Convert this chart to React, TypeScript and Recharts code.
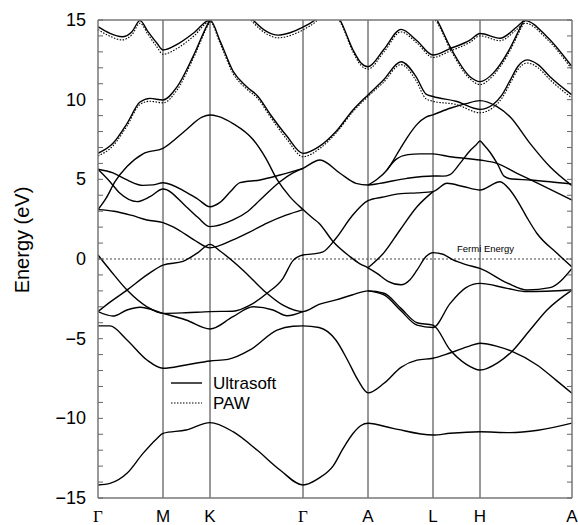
import { LineChart, Line, XAxis, YAxis, ReferenceLine } from 'recharts';

type Pt = [number, number];

// path coordinate of the high-symmetry points and their labels
const SYM_K = [0, 65, 112, 205, 270, 335, 382, 474];
const SYM_LABELS = ['Γ', 'M', 'K', 'Γ', 'A', 'L', 'H', 'A'];
const E_TICKS = [-15, -14, -13, -12, -11, -10, -9, -8, -7, -6, -5, -4, -3, -2, -1, 0, 1, 2, 3, 4, 5, 6, 7, 8, 9, 10, 11, 12, 13, 14, 15];

// Ultrasoft bands, [k, E (eV)]
const US_TOP_A: Pt[] = [[0, 14.58], [12, 14.16], [24, 13.95], [34, 14.27], [42, 14.96], [50, 14.27], [59, 13.54], [65, 13.12], [80, 13.5], [96, 14.2], [112, 15.0], [122, 13.7], [135, 11.8], [149, 10.8], [160, 10.2], [172, 9.1], [189, 7.7], [205, 6.63], [221, 7.05], [238, 8.0], [255, 9.35], [270, 10.3], [285, 11.2], [303, 12.38], [318, 11.45], [328, 10.35], [335, 10.2], [358, 9.9], [382, 9.39], [395, 9.7], [404, 10.3], [412, 11.2], [420, 12.1], [429, 12.5], [440, 12.2], [452, 11.44], [474, 10.3]];
const US_TOP_B: Pt[] = [[0, 6.63], [15, 7.26], [29, 8.5], [42, 9.85], [52, 10.08], [65, 9.98], [79, 10.8], [95, 12.7], [112, 15.0], [125, 15.9], [140, 16.1], [155, 15.0], [168, 14.3], [180, 14.05], [192, 14.2], [205, 14.55], [217, 15.0], [230, 15.8], [242, 15.0], [255, 13.12], [263, 12.3], [270, 12.07], [286, 13.16], [303, 14.41], [319, 13.7], [335, 12.8], [352, 13.2], [372, 13.74], [382, 14.15], [402, 13.85], [419, 14.58], [427, 14.96], [449, 13.95], [474, 12.07]];
const US_TOP_C: Pt[] = [[322, 16.6], [335, 15.4], [339, 15.0], [352, 13.33], [372, 11.44], [382, 11.13], [395, 11.65], [410, 13.0], [422, 14.5], [432, 15.8]];
const US_T3: Pt[] = [[0, 3.1], [8, 3.8], [17, 4.85], [29, 5.8], [45, 6.6], [65, 6.95], [88, 8.1], [104, 8.9], [112, 9.04], [120, 8.95], [135, 8.5], [155, 7.5], [168, 6.3], [179, 5.0], [192, 3.9], [205, 3.1], [214, 2.6], [221, 2.25], [235, 1.1], [252, 0.15], [262, -0.3], [270, -0.55], [279, -0.9], [290, -1.4], [303, -1.62], [312, -1.3], [319, -0.7], [328, 0.15], [335, 0.4], [345, 0.3], [355, -0.06], [368, -0.35], [382, -0.59], [409, -1.5], [429, -1.95], [452, -1.8], [474, -0.59]];
const US_T6: Pt[] = [[0, 3.1], [16, 3.0], [33, 2.75], [49, 2.45], [65, 2.28], [80, 1.85], [96, 1.2], [112, 0.7], [135, 1.2], [152, 1.7], [169, 2.25], [188, 2.75], [205, 3.1]];
const US_T4: Pt[] = [[0, 5.63], [12, 4.85], [22, 4.12], [39, 3.6], [52, 3.91], [65, 4.39], [88, 3.3], [100, 2.6], [112, 2.03], [135, 2.45], [150, 3.0], [162, 3.7], [182, 4.85], [195, 5.4], [205, 5.69], [222, 6.21], [242, 5.38], [258, 4.75], [270, 4.64], [282, 4.75], [309, 5.06], [335, 5.21], [345, 5.2], [352, 5.3], [362, 6.0], [372, 6.8], [378, 7.15], [382, 7.41], [386, 7.15], [392, 6.7], [400, 5.9], [406, 5.2], [414, 5.02], [432, 4.96], [452, 4.85], [474, 4.7]];
const US_T5: Pt[] = [[0, 5.63], [15, 5.4], [29, 4.96], [45, 4.62], [55, 4.65], [65, 4.79], [88, 4.2], [100, 3.75], [112, 3.28], [122, 3.55], [132, 4.2], [142, 4.79], [162, 4.96], [182, 5.27], [205, 5.69]];
const US_F: Pt[] = [[0, 0.25], [12, -0.69], [29, -1.95], [49, -3.0], [65, -3.41], [88, -3.37], [112, -3.3], [135, -3.28], [152, -2.9], [169, -2.15], [185, -1.21], [195, -0.1], [205, 0.25], [215, 0.32], [225, 0.45], [238, 1.3], [254, 2.7], [270, 3.66], [286, 3.9], [303, 4.1], [319, 4.15], [335, 4.23], [349, 4.75], [365, 4.55], [382, 4.33], [402, 4.85], [412, 4.33], [419, 3.7], [429, 2.6], [439, 1.6], [459, 0.36], [474, -0.5]];
const US_G: Pt[] = [[0, -3.3], [10, -2.8], [29, -1.95], [49, -1.0], [65, -0.38], [85, -0.15], [100, 0.4], [112, 0.92], [122, 0.5], [145, -0.7], [167, -2.05], [185, -2.9], [205, -3.3], [221, -2.85], [238, -2.57], [254, -2.26], [270, -2.0], [286, -2.15], [303, -3.1], [319, -4.0], [335, -4.15], [352, -5.7], [368, -6.6], [382, -6.97], [400, -6.5], [414, -5.8], [432, -4.46], [449, -3.2], [474, -1.95]];
const US_X: Pt[] = [[0, -3.3], [15, -3.58], [29, -3.2], [42, -3.03], [65, -3.41], [88, -3.83], [112, -4.39], [135, -3.62], [155, -3.0], [175, -3.2], [189, -3.56], [205, -3.3]];
const US_B2: Pt[] = [[270, -2.0], [286, -2.25], [303, -3.25], [319, -4.15], [335, -4.3], [352, -2.8], [368, -1.8], [382, -1.53], [409, -1.84], [429, -2.05], [474, -1.95]];
const US_R2: Pt[] = [[270, -0.55], [286, 0.4], [302, 1.82], [319, 3.28], [335, 4.23]];
const US_R: Pt[] = [[270, 4.64], [280, 5.05], [289, 5.59], [302, 6.9], [310, 7.7], [319, 8.45], [328, 8.9], [335, 9.05], [352, 9.46], [368, 9.75], [382, 9.94], [399, 9.56], [412, 8.93], [432, 7.26], [452, 5.79], [474, 4.6]];
const US_Q: Pt[] = [[289, 5.59], [298, 6.25], [310, 6.55], [322, 6.6], [335, 6.6], [352, 6.42], [382, 6.21], [399, 6.0], [419, 5.38], [440, 4.75], [474, 3.7]];
const US_P: Pt[] = [[0, -4.2], [12, -4.2], [29, -5.08], [49, -6.34], [65, -6.86], [88, -6.65], [112, -6.4], [130, -6.3], [152, -5.71], [179, -4.46], [195, -4.22], [205, -4.2], [221, -4.3], [238, -5.1], [250, -6.4], [260, -7.6], [270, -8.4], [286, -7.8], [303, -6.8], [319, -6.35], [335, -6.23], [352, -5.9], [372, -5.45], [382, -5.29], [400, -5.5], [414, -5.8], [439, -6.65], [458, -7.6], [474, -8.43]];
const US_BOTTOM: Pt[] = [[0, -14.18], [12, -14.08], [29, -13.45], [45, -12.2], [59, -11.26], [65, -10.94], [88, -10.73], [112, -10.27], [135, -10.84], [159, -11.99], [182, -13.24], [205, -14.18], [221, -13.75], [235, -13.0], [245, -11.9], [255, -10.95], [263, -10.45], [270, -10.31], [295, -10.63], [335, -11.05], [352, -10.94], [382, -10.84], [412, -10.9], [440, -10.75], [474, -10.3]];

// PAW bands where they visibly leave the ultrasoft ones
const PAW_TOP_A: Pt[] = [[0, 14.4], [12, 13.98], [24, 13.75], [34, 14.08], [42, 14.8], [50, 14.1], [59, 13.3], [65, 12.85], [80, 13.25], [96, 14.0], [112, 14.9], [122, 13.55], [135, 11.65], [149, 10.65], [160, 10.05], [172, 8.95], [189, 7.5], [205, 6.42], [221, 6.9], [238, 7.9], [255, 9.25], [270, 10.2], [285, 11.05], [303, 12.2], [318, 11.2], [328, 10.05], [335, 9.9], [358, 9.7], [382, 9.18], [395, 9.5], [404, 10.1], [412, 11.0], [420, 11.9], [429, 12.3], [440, 12.0], [452, 11.25], [474, 10.1]];
const PAW_TOP_B: Pt[] = [[0, 6.47], [15, 7.1], [29, 8.35], [42, 9.7], [52, 9.9], [65, 9.8], [79, 10.6], [95, 12.55], [112, 14.9], [125, 15.8], [140, 16.0], [155, 14.85], [168, 14.15], [180, 13.88], [192, 14.02], [205, 14.38], [217, 14.85], [230, 15.6], [242, 14.9], [255, 13.0], [263, 12.15], [270, 11.92], [286, 13.0], [303, 14.25], [319, 13.55], [335, 12.65], [352, 13.05], [372, 13.6], [382, 14.0], [402, 13.7], [419, 14.42], [427, 14.8], [449, 13.8], [474, 11.9]];
const PAW_TOP_C: Pt[] = [[322, 16.4], [335, 15.2], [339, 14.85], [352, 13.2], [372, 11.3], [382, 10.95], [395, 11.5], [410, 12.85], [422, 14.35], [432, 15.6]];

const US_BANDS = [US_TOP_A, US_TOP_B, US_TOP_C, US_T3, US_T6, US_T4, US_T5, US_F, US_G, US_X, US_B2, US_R2, US_R, US_Q, US_P, US_BOTTOM];
const PAW_BANDS = [PAW_TOP_A, PAW_TOP_B, PAW_TOP_C];

const PLOT_LEFT = 98;
const PLOT_RIGHT = 572;
const SANS = '"Liberation Sans", Arial, sans-serif';
const SERIF = '"Liberation Serif", "Times New Roman", serif';

const rows = (pts: Pt[]) => pts.map(([k, e]) => ({ k, e }));

function XTick({ x, payload }: any) {
  const label = SYM_LABELS[SYM_K.indexOf(payload.value)];
  return (
    <text x={x} y={516} textAnchor="middle" dominantBaseline="central" fontSize={17}
      fontFamily={label === 'Γ' ? SERIF : SANS} fill="#000">{label}</text>
  );
}

function YTick({ y, payload }: any) {
  const v = payload.value as number;
  return (
    <g>
      <line x1={PLOT_LEFT} x2={PLOT_LEFT + 5} y1={y} y2={y} stroke="#666" />
      <line x1={PLOT_RIGHT - 5} x2={PLOT_RIGHT} y1={y} y2={y} stroke="#666" />
      {v % 5 === 0 && (
        <text x={86} y={y} textAnchor="end" dominantBaseline="central" fontSize={18} fontFamily={SANS} fill="#000">
          {v < 0 ? `\u2212${-v}` : v}
        </text>
      )}
    </g>
  );
}

export default function App() {
  return (
    <div style={{ position: 'absolute', left: 0, top: 0, width: 578, height: 525, background: '#fff' }}>
      <LineChart width={578} height={525} margin={{ top: 20, right: 6, bottom: 0, left: 0 }}>
        <XAxis dataKey="k" type="number" domain={[0, 474]} ticks={SYM_K} interval={0} allowDataOverflow
          tick={(p: any) => <XTick {...p} />} tickLine={false} axisLine={false} height={27} />
        <YAxis type="number" domain={[-15, 15]} ticks={E_TICKS} interval={0} allowDataOverflow width={98}
          tick={(p: any) => <YTick {...p} />} tickLine={false} axisLine={false} />
        {SYM_K.slice(1, -1).map((k) => (
          <ReferenceLine key={k} x={k} stroke="#333" strokeWidth={1} />
        ))}
        <ReferenceLine y={0} stroke="#444" strokeDasharray="2 2" strokeWidth={1} />
        {US_BANDS.map((b, i) => (
          <Line key={'us' + i} data={rows(b)} dataKey="e" type="monotone" stroke="#000" strokeWidth={1.4}
            dot={false} activeDot={false} isAnimationActive={false} />
        ))}
        {PAW_BANDS.map((b, i) => (
          <Line key={'paw' + i} data={rows(b)} dataKey="e" type="monotone" stroke="#000" strokeWidth={1.1}
            strokeDasharray="1.5 1.5" dot={false} activeDot={false} isAnimationActive={false} />
        ))}
        <ReferenceLine x={0} stroke="#777" strokeWidth={1.5} />
        <ReferenceLine x={474} stroke="#777" strokeWidth={1.5} />
        <ReferenceLine y={15} stroke="#777" strokeWidth={1.5} />
        <ReferenceLine y={-15} stroke="#777" strokeWidth={1.5} />
      </LineChart>
      <svg width={578} height={525} style={{ position: 'absolute', left: 0, top: 0, pointerEvents: 'none' }}>
        <text transform="rotate(-90 22 240)" x={22} y={240} textAnchor="middle" dominantBaseline="central"
          fontSize={20} fontFamily={SANS} fill="#000">Energy (eV)</text>
        <text x={457} y={252} fontSize={9.5} fontFamily={SANS} fill="#000">Fermi Energy</text>
        <line x1={171} x2={202} y1={383} y2={383} stroke="#000" strokeWidth={1.4} />
        <text x={213} y={383} dominantBaseline="central" fontSize={17} fontFamily={SANS} fill="#000">Ultrasoft</text>
        <line x1={171} x2={202} y1={403} y2={403} stroke="#000" strokeWidth={1.1} strokeDasharray="1.5 1.5" />
        <text x={213} y={403} dominantBaseline="central" fontSize={17} fontFamily={SANS} fill="#000">PAW</text>
      </svg>
    </div>
  );
}
